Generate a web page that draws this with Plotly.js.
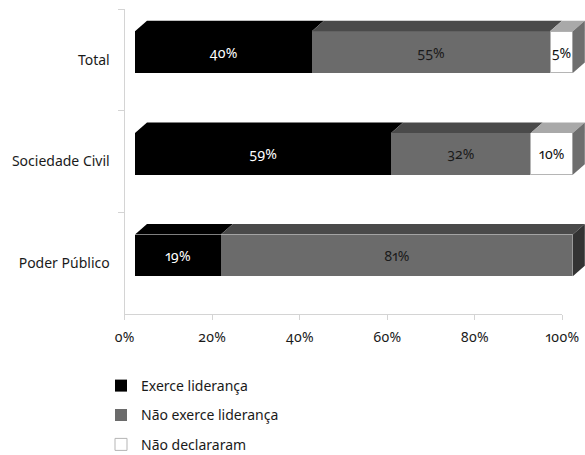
<!DOCTYPE html>
<html><head><meta charset="utf-8">
<script src="https://cdn.plot.ly/plotly-3.0.1.min.js"></script>
<style>
html,body{margin:0;padding:0;background:#fff;}
#chart{width:585px;height:455px;}
.main-svg text{font-feature-settings:"onum" 1, "pnum" 1;}
</style></head><body><div id="chart"></div>
<script>
// ---- data ----
const categories = ['Total', 'Sociedade Civil', 'Poder Público'];
const seriesNames = ['Exerce liderança', 'Não exerce liderança', 'Não declararam'];
const exerce = [40.4, 58.5, 19.6];
const naoExerce = [54.4, 31.9, 80.4];
const naoDeclararam = [5.2, 9.6, 0];
const exerceLabels = ['40%', '59%', '19%'];
const naoExerceLabels = ['55%', '32%', '81%'];
const naoDeclararamLabels = ['5%', '10%', ''];
const xTickVals = [0, 20, 40, 60, 80, 100];
const xTickText = ['0%', '20%', '40%', '60%', '80%', '100%'];

// ---- styling ----
const W = 585, H = 455;
const FONT = 'Noto Sans, Open Sans, sans-serif';
const FS = 14;
const frontColors = ['#000000', '#6b6b6b', '#ffffff'];
const topColors = ['#000000', '#4a4a4a', '#a9a9a9'];
const sideColors = {1: '#333333', 2: '#6e6e6e'};
const textColors = ['#ffffff', '#1a1a1a', '#111111'];

// axis geometry (px)
const axL = 124.5, axR = 562.3, axT = 9, axB = 314;
const offX = 10.5, offY = -7.7;         // front-face offset of 3D bars
const depthX = 12, depthY = 10.5;       // 3D depth in px
const pxPerUnitX = (axR - axL) / 100;
const pxPerCat = (axB - axT) / 3;
const barW = 41.7 / pxPerCat;
const bxL = axL + offX;
const bxRange = (W - bxL) / pxPerUnitX;

const series = [exerce, naoExerce, naoDeclararam];
const labels = [exerceLabels, naoExerceLabels, naoDeclararamLabels];

const traces = series.map((vals, k) => ({
  type: 'bar', orientation: 'h',
  name: seriesNames[k], legendgroup: 'g' + k,
  x: vals, y: categories,
  xaxis: 'x2', yaxis: 'y2',
  width: barW,
  marker: {color: frontColors[k], line: {color: k === 2 ? '#b5b5b5' : frontColors[k], width: k === 2 ? 1 : 0}},
  text: labels[k], textposition: 'inside', insidetextanchor: 'middle',
  textangle: 0, constraintext: 'none',
  insidetextfont: {family: FONT, size: FS, color: textColors[k]},
  hoverinfo: 'skip'
}));

// helper trace (draws nothing) so the visible category / percent axes are built
traces.unshift({
  type: 'scatter', mode: 'none', x: exerce, y: categories,
  xaxis: 'x', yaxis: 'y', showlegend: false, hoverinfo: 'skip'
});

// 3D faces from the data through axis x2/y2
const dx = depthX / pxPerUnitX, dy = depthY / pxPerCat;
const shapes = [];
categories.forEach((c, i) => {
  let x0 = 0, lastK = -1, lastX1 = 0;
  const yt = i - barW / 2, yb = i + barW / 2;
  series.forEach((vals, k) => {
    const v = vals[i];
    if (v <= 0) return;
    const x1 = x0 + v;
    shapes.push({type: 'path', xref: 'x2', yref: 'y2', layer: 'above',
      path: `M${x0},${yt} L${x1},${yt} L${x1 + dx},${yt - dy} L${x0 + dx},${yt - dy} Z`,
      fillcolor: topColors[k], line: {width: 0}});
    lastK = k; lastX1 = x1; x0 = x1;
  });
  shapes.push({type: 'path', xref: 'x2', yref: 'y2', layer: 'above',
    path: `M${lastX1},${yt} L${lastX1},${yb} L${lastX1 + dx},${yb - dy} L${lastX1 + dx},${yt - dy} Z`,
    fillcolor: sideColors[lastK], line: {width: 0}});
});

const axisColor = '#d4d4d4';
const layout = {
  width: W, height: H,
  margin: {l: 0, r: 0, t: 0, b: 0, autoexpand: false},
  paper_bgcolor: '#ffffff', plot_bgcolor: 'rgba(0,0,0,0)',
  font: {family: FONT, size: FS, color: '#1a1a1a'},
  barmode: 'stack', bargap: 0,
  showlegend: true,
  xaxis: {
    domain: [axL / W, axR / W], anchor: 'y', range: [0, 100],
    tickvals: xTickVals, ticktext: xTickText,
    showline: true, linecolor: axisColor, linewidth: 1,
    ticks: 'outside', ticklen: 5, tickcolor: axisColor,
    showgrid: false, zeroline: false, ticklabelstandoff: 5,
    tickfont: {family: FONT, size: FS, color: '#1a1a1a'}, fixedrange: true
  },
  yaxis: {
    domain: [(H - axB) / H, (H - axT) / H], anchor: 'x',
    type: 'category', categoryorder: 'array', categoryarray: categories,
    range: [2.5, -0.5], tickson: 'boundaries',
    showline: true, linecolor: axisColor, linewidth: 1,
    ticks: 'outside', ticklen: 6, tickcolor: axisColor,
    showgrid: false, zeroline: false, ticklabelstandoff: 11,
    tickfont: {family: FONT, size: FS, color: '#1a1a1a'}, fixedrange: true
  },
  xaxis2: {
    domain: [bxL / W, 1], anchor: 'y2', range: [0, bxRange],
    visible: false, fixedrange: true
  },
  yaxis2: {
    domain: [(H - axB - offY) / H, (H - axT - offY) / H], anchor: 'x2',
    type: 'category', categoryorder: 'array', categoryarray: categories,
    range: [2.5, -0.5], visible: false, fixedrange: true
  },
  shapes: shapes,
  legend: {
    x: 101 / W, xanchor: 'left', y: (H - 370) / H, yanchor: 'top',
    traceorder: 'grouped', tracegroupgap: 8.2,
    font: {family: FONT, size: FS, color: '#1a1a1a'},
    bgcolor: 'rgba(0,0,0,0)', borderwidth: 0
  }
};

Plotly.newPlot('chart', traces, layout, {displayModeBar: false, staticPlot: true});
</script></body></html>
